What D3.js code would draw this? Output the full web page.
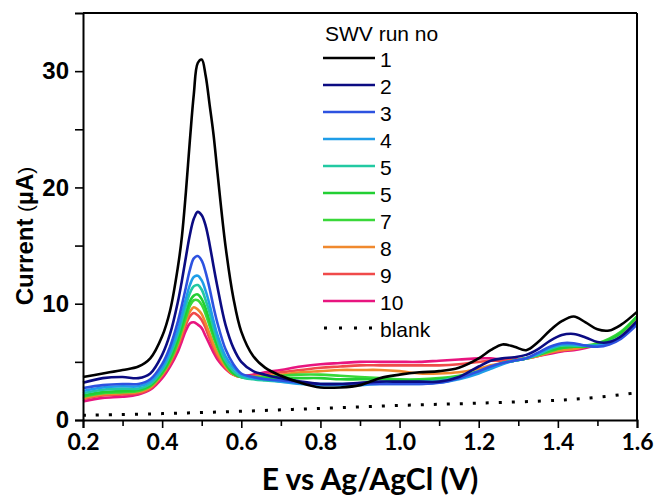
<!DOCTYPE html>
<html><head><meta charset="utf-8">
<script src="https://cdn.jsdelivr.net/npm/d3@7"></script>
<style>body{margin:0;background:#fff}svg{display:block}</style>
</head><body><svg id="c" width="654" height="495"></svg>
<script>
const E = [0.20,0.25,0.30,0.34,0.37,0.40,0.42,0.44,0.45,0.46,0.47,0.48,0.49,0.50,0.51,0.52,0.53,0.54,0.56,0.58,0.60,0.63,0.66,0.70,0.75,0.80,0.85,0.90,0.95,1.00,1.05,1.10,1.15,1.20,1.23,1.26,1.29,1.32,1.35,1.38,1.41,1.44,1.47,1.50,1.53,1.56,1.60];
const run1 = [3.7,4.0,4.3,4.6,5.3,7.2,9.4,13.2,15.8,19.6,24.0,28.0,30.7,31.0,29.6,27.1,24.5,21.2,15.0,10.5,7.6,5.5,4.5,3.8,3.2,2.8,2.8,3.0,3.6,3.9,4.1,4.2,4.5,5.3,6.0,6.5,6.3,6.0,6.7,7.7,8.5,8.9,8.4,7.8,7.7,8.2,9.3];
const run2 = [3.2,3.6,3.7,3.6,4.0,5.6,7.4,10.2,12.0,14.0,15.9,17.3,17.9,17.6,16.7,15.1,13.2,11.4,8.2,6.2,5.0,4.2,3.9,3.6,3.3,3.1,3.1,3.2,3.3,3.3,3.3,3.3,3.7,4.6,5.1,5.3,5.4,5.6,6.1,6.8,7.3,7.4,7.1,6.7,6.7,7.2,8.5];
const run3 = [2.75,3.0,3.1,3.1,3.5,4.8,6.3,8.5,9.9,11.4,12.9,13.9,14.1,13.7,12.7,11.3,9.7,8.3,6.1,4.8,4.0,3.7,3.5,3.4,3.2,3.1,3.1,3.1,3.1,3.1,3.1,3.2,3.6,4.2,4.6,4.9,5.1,5.3,5.8,6.3,6.6,6.6,6.4,6.3,6.5,7.0,8.2];
const run4 = [2.5,2.8,2.9,2.9,3.3,4.5,5.9,7.8,9.1,10.4,11.6,12.3,12.4,12.0,11.1,9.9,8.5,7.3,5.5,4.5,3.9,3.6,3.5,3.3,3.1,3.0,3.0,3.0,3.1,3.1,3.1,3.2,3.5,4.0,4.4,4.8,5.1,5.3,5.7,6.2,6.5,6.5,6.4,6.4,6.6,7.1,8.4];
const run5 = [2.3,2.6,2.7,2.7,3.1,4.3,5.6,7.4,8.6,9.8,10.9,11.5,11.6,11.2,10.3,9.2,7.9,6.8,5.1,4.2,3.7,3.5,3.4,3.3,3.2,3.1,3.1,3.1,3.2,3.2,3.3,3.4,3.7,4.1,4.5,4.9,5.1,5.3,5.6,6.1,6.4,6.4,6.4,6.4,6.7,7.2,8.5];
const run6 = [2.1,2.4,2.5,2.6,3.0,4.1,5.3,7.0,8.1,9.2,10.2,10.7,10.8,10.4,9.6,8.5,7.4,6.4,4.9,4.0,3.7,3.6,3.6,3.6,3.6,3.6,3.5,3.5,3.5,3.4,3.4,3.5,3.7,4.1,4.5,4.9,5.1,5.3,5.6,6.0,6.2,6.3,6.3,6.5,6.9,7.5,8.9];
const run7 = [2.0,2.3,2.4,2.5,2.9,4.0,5.1,6.7,7.8,8.8,9.8,10.3,10.3,9.9,9.1,8.1,7.1,6.2,4.8,4.0,3.7,3.7,3.7,3.8,3.9,3.9,3.8,3.7,3.6,3.5,3.5,3.6,3.8,4.2,4.5,4.9,5.1,5.3,5.6,5.9,6.2,6.3,6.4,6.6,7.0,7.6,8.9];
const run8 = [1.9,2.2,2.3,2.4,2.8,3.9,5.0,6.5,7.5,8.5,9.3,9.7,9.5,9.1,8.3,7.4,6.5,5.7,4.6,3.9,3.7,3.7,3.8,3.9,4.1,4.2,4.3,4.3,4.3,4.2,4.0,4.0,4.1,4.4,4.7,4.9,5.1,5.3,5.5,5.8,6.0,6.1,6.3,6.5,6.9,7.5,8.6];
const run9 = [1.8,2.1,2.2,2.3,2.7,3.8,4.8,6.3,7.2,8.2,8.9,9.2,9.0,8.6,7.9,7.0,6.2,5.5,4.5,3.9,3.7,3.8,3.9,4.1,4.3,4.5,4.6,4.7,4.7,4.7,4.7,4.7,4.8,5.0,5.1,5.1,5.2,5.3,5.5,5.8,6.0,6.1,6.3,6.5,6.9,7.5,8.6];
const run10 = [1.6,1.9,2.0,2.2,2.6,3.6,4.6,5.9,6.8,7.7,8.3,8.4,8.2,7.9,7.2,6.5,5.8,5.2,4.4,3.9,3.8,3.9,4.1,4.3,4.6,4.8,4.9,5.0,5.0,5.0,5.0,5.1,5.2,5.3,5.3,5.2,5.2,5.3,5.5,5.7,5.9,6.0,6.2,6.5,6.9,7.5,8.5];
const blankE = [0.2,0.4,0.6,0.8,1.0,1.2,1.4,1.5,1.6];
const blankI = [0.4,0.55,0.75,1.0,1.25,1.45,1.7,1.95,2.35];
const seriesNames = ["1","2","3","4","5","5","7","8","9","10"];
const seriesColors = ["#000000","#0b0b82","#2d52e0","#1f9de8","#22c9a2","#22cf33","#3ad83a","#f0892e","#f04a4a","#e8157f"];
const seriesData = [run1,run2,run3,run4,run5,run6,run7,run8,run9,run10];
const xTicks = [0.2,0.4,0.6,0.8,1.0,1.2,1.4,1.6];
const xMinor = [0.3,0.5,0.7,0.9,1.1,1.3,1.5];
const yTicks = [0,10,20,30];
const yMinor = [5,15,25];

const svg = d3.select("#c");
const L=83, R=637, T=13, B=420;
const x = d3.scaleLinear().domain([0.2,1.6]).range([L,R]);
const y = d3.scaleLinear().domain([0,35]).range([B,T]);

const line = d3.line().x(d=>x(d[0])).y(d=>y(d[1])).curve(d3.curveCatmullRom.alpha(0.5));
const g = svg.append("g");
for (let i=seriesData.length-1;i>=0;i--){
  g.append("path").attr("d", line(E.map((e,j)=>[e,seriesData[i][j]])))
   .attr("fill","none").attr("stroke",seriesColors[i]).attr("stroke-width",2.6).attr("stroke-linejoin","round");
}
g.append("path").attr("d", line(blankE.map((e,j)=>[e,blankI[j]])))
  .attr("fill","none").attr("stroke","#000").attr("stroke-width",3).attr("stroke-dasharray","3,10");

svg.append("line").attr("x1",L).attr("x2",R).attr("y1",T).attr("y2",T).attr("stroke","#000").attr("stroke-width",2);
svg.append("line").attr("x1",R).attr("x2",R).attr("y1",T).attr("y2",B).attr("stroke","#000").attr("stroke-width",2);

const xa = svg.append("g").attr("transform",`translate(0,${B})`)
  .call(d3.axisBottom(x).tickValues(xTicks).tickFormat(d3.format(".1f")).tickSize(8).tickPadding(6));
const xm = svg.append("g").attr("transform",`translate(0,${B})`)
  .call(d3.axisBottom(x).tickValues(xMinor).tickFormat("").tickSize(6));
xm.select(".domain").remove();
const ya = svg.append("g").attr("transform",`translate(${L},0)`)
  .call(d3.axisLeft(y).tickValues(yTicks).tickSize(8).tickPadding(6));
const ym = svg.append("g").attr("transform",`translate(${L},0)`)
  .call(d3.axisLeft(y).tickValues(yMinor).tickFormat("").tickSize(8));
ym.select(".domain").remove();
svg.selectAll(".domain").attr("stroke","#000").attr("stroke-width",2);
svg.selectAll(".tick line").attr("stroke","#000").attr("stroke-width",1.6);
xa.selectAll("text").attr("font-family","Lato, 'Open Sans', sans-serif").attr("font-weight","bold").attr("font-size",23).attr("fill","#000");
ya.selectAll("text").attr("font-family","'Liberation Sans', Arial, sans-serif").attr("font-weight","bold").attr("font-size",24).attr("fill","#000");

svg.append("text").attr("x",370).attr("y",490).attr("text-anchor","middle")
  .attr("font-family","Lato, 'Open Sans', sans-serif").attr("font-weight","bold").attr("font-size",30).text("E vs Ag/AgCl (V)");
const yt = svg.append("text").attr("transform","translate(33,236) rotate(-90)").attr("text-anchor","middle")
  .attr("font-family","'Liberation Sans', Arial, sans-serif").attr("font-weight","bold").attr("font-size",24);
yt.append("tspan").text("Current ");
yt.append("tspan").attr("font-weight","normal").attr("font-size",21).text("(");
yt.append("tspan").text("µA");
yt.append("tspan").attr("font-weight","normal").attr("font-size",21).text(")");

const lg = svg.append("g").attr("font-family","'Liberation Sans', Arial, sans-serif").attr("font-size",21);
lg.append("text").attr("x",325).attr("y",33).attr("dominant-baseline","central").text("SWV run no");
const rowsY = d3.range(11).map(i=>58+i*27);
seriesNames.forEach((n,i)=>{
  lg.append("line").attr("x1",323).attr("x2",375).attr("y1",rowsY[i]).attr("y2",rowsY[i]).attr("stroke",seriesColors[i]).attr("stroke-width",2.6);
  lg.append("text").attr("x",380).attr("y",rowsY[i]+1).attr("dominant-baseline","central").text(n);
});
lg.append("line").attr("x1",323).attr("x2",375).attr("y1",rowsY[10]).attr("y2",rowsY[10]).attr("stroke","#000").attr("stroke-width",3).attr("stroke-dasharray","3,12").attr("stroke-dashoffset",-1);
lg.append("text").attr("x",380).attr("y",rowsY[10]+1).attr("dominant-baseline","central").text("blank");
</script></body></html>
